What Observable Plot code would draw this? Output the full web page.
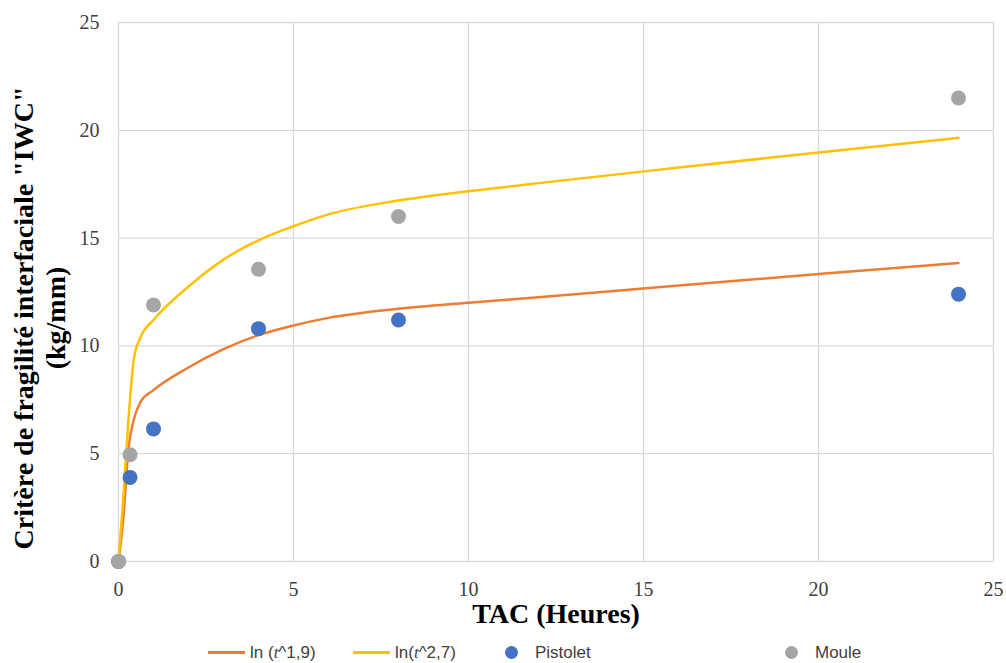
<!DOCTYPE html>
<html>
<head>
<meta charset="utf-8">
<script src="https://cdn.jsdelivr.net/npm/d3@7"></script>
<script src="https://cdn.jsdelivr.net/npm/@observablehq/plot@0.6"></script>
<style>
  html, body { margin: 0; padding: 0; background: #fff; }
  #wrap { position: relative; width: 1006px; height: 663px; overflow: hidden; }
  #legend { position: absolute; left: 0; top: 642px; width: 1006px; height: 21px;
            font-family: "Liberation Sans", Arial, sans-serif; font-size: 17px; color: #404040; }
  .item { position: absolute; top: 0; height: 21px; display: flex; align-items: center; white-space: nowrap; }
  .swline { display: inline-block; width: 37px; height: 2.5px; margin-right: 5px; }
  .swdot { display: inline-block; width: 13px; height: 13px; border-radius: 50%; margin-right: 17px; }
  i.t { font-family: "Liberation Serif", serif; font-style: italic; }
</style>
</head>
<body>
<div id="wrap">
  <div id="chart"></div>
  <div id="legend"></div>
</div>
<script>
// Measurement times (h) and values
const tPoints = [0, 0.33, 1, 4, 8, 24];
const pistolet = [0, 3.9, 6.15, 10.8, 11.2, 12.4];
const moule = [0, 4.95, 11.9, 13.55, 16.0, 21.5];

// Fitted curves
const tCurve = [0, 0.14, 0.29, 0.44, 0.63, 1, 2, 3, 4, 5, 6, 8, 10, 12, 16, 20, 24];
const lnT19 = [0, 2.05, 5.3, 6.6, 7.4, 7.95, 9.0, 9.85, 10.5, 10.95, 11.3, 11.72, 12.0, 12.26, 12.8, 13.33, 13.85];
const lnT27 = [0, 3.0, 6.7, 9.4, 10.4, 11.2, 12.75, 14.0, 14.9, 15.55, 16.1, 16.74, 17.17, 17.55, 18.27, 18.97, 19.65];

const xTicks = [0, 5, 10, 15, 20, 25];
const yTicks = [0, 5, 10, 15, 20, 25];
const xLabel = "TAC (Heures)";
const yLabel = "Critère de fragilité interfaciale \"IWC\"\n(kg/mm)";

const colors = { orange: "#ED7D31", yellow: "#FFC000", blue: "#4472C4", grey: "#A5A5A5" };

const curveData = [
  ...tCurve.map((t, i) => ({ t, v: lnT19[i], s: "ln (t^1,9)" })),
  ...tCurve.map((t, i) => ({ t, v: lnT27[i], s: "ln(t^2,7)" }))
];
const pointData = [
  ...tPoints.map((t, i) => ({ t, v: pistolet[i], s: "Pistolet" })),
  ...tPoints.map((t, i) => ({ t, v: moule[i], s: "Moule" }))
];

const chart = Plot.plot({
  width: 1006,
  height: 640,
  marginLeft: 118,
  marginRight: 13,
  marginTop: 22,
  marginBottom: 79,
  style: { fontFamily: "'Liberation Serif', 'Times New Roman', serif", fontSize: "20px", color: "#404040", background: "white", overflow: "visible" },
  x: { domain: [0, 25], ticks: xTicks, tickSize: 0, tickPadding: 20, label: null },
  y: { domain: [0, 25], ticks: yTicks, tickSize: 0, tickPadding: 19, label: null },
  marks: [
    Plot.gridX(xTicks, { stroke: "#d9d9d9", strokeOpacity: 1, strokeWidth: 1.3 }),
    Plot.gridY(yTicks, { stroke: "#d9d9d9", strokeOpacity: 1, strokeWidth: 1.3 }),
    Plot.line(curveData.filter(d => d.s === "ln (t^1,9)"), { x: "t", y: "v", stroke: colors.orange, strokeWidth: 2.5, curve: "monotone-x" }),
    Plot.line(curveData.filter(d => d.s === "ln(t^2,7)"), { x: "t", y: "v", stroke: colors.yellow, strokeWidth: 2.5, curve: "monotone-x" }),
    Plot.dot(pointData.filter(d => d.s === "Pistolet"), { x: "t", y: "v", r: 7.5, fill: colors.blue, stroke: "none" }),
    Plot.dot(pointData.filter(d => d.s === "Moule"), { x: "t", y: "v", r: 7.5, fill: colors.grey, stroke: "none" }),
    Plot.text([xLabel], { text: d => d, frameAnchor: "bottom", dy: 61, fontWeight: "bold", fontSize: 28, fill: "black" }),
    Plot.text([yLabel], { text: d => d, frameAnchor: "left", textAnchor: "middle", lineAnchor: "middle", rotate: -90, dx: -80, dy: 26, fontWeight: "bold", fontSize: 28, lineHeight: 1.15, fill: "black" })
  ]
});
document.getElementById("chart").appendChild(chart);

// Legend
const legendItems = [
  { x: 208, type: "line", color: colors.orange, html: "ln (<i class='t'>t</i>^1,9)" },
  { x: 353, type: "line", color: colors.yellow, html: "ln(<i class='t'>t</i>^2,7)" },
  { x: 505, type: "dot", color: colors.blue, html: "Pistolet" },
  { x: 785, type: "dot", color: colors.grey, html: "Moule" }
];
const legend = document.getElementById("legend");
for (const it of legendItems) {
  const d = document.createElement("div");
  d.className = "item";
  d.style.left = it.x + "px";
  const sw = document.createElement("span");
  sw.className = it.type === "line" ? "swline" : "swdot";
  sw.style.background = it.color;
  d.appendChild(sw);
  const lab = document.createElement("span");
  lab.innerHTML = it.html;
  d.appendChild(lab);
  legend.appendChild(d);
}
</script>
</body>
</html>
